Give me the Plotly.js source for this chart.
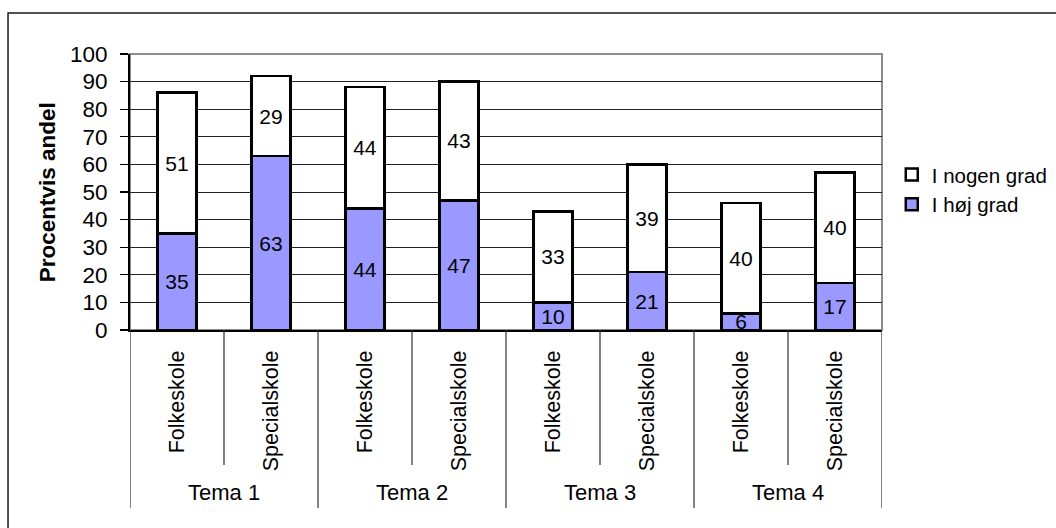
<!DOCTYPE html>
<html>
<head>
<meta charset="utf-8">
<script src="https://cdn.plot.ly/plotly-3.0.1.min.js"></script>
<style>
  html, body { margin: 0; padding: 0; background: #fff; }
  #chart { width: 1056px; height: 528px; }
</style>
</head>
<body>
<div id="chart"></div>
<script>
// Themes and school types along the category axis
const themes = ["Tema 1", "Tema 2", "Tema 3", "Tema 4"];
const schools = ["Folkeskole", "Specialskole"];

// Percentages per bar (Folkeskole, Specialskole for each theme)
const hojGrad   = [35, 63, 44, 47, 10, 21, 6, 17];
const nogenGrad = [51, 29, 44, 43, 33, 39, 40, 40];

const seriesNames = ["I høj grad", "I nogen grad"];
const yTitle = "Procentvis andel";

// One slot per theme/school pair
const slotLabels = [];
themes.forEach(() => schools.forEach(s => slotLabels.push(s)));
const slots = slotLabels.map((_, i) => i);

const FONT = "Arial, 'Liberation Sans', sans-serif";
const outline = { color: "#000000", width: 2.5 };

const traces = [
  {
    type: "bar", name: seriesNames[0], x: slots, y: hojGrad,
    text: hojGrad.map(String), textposition: "inside", insidetextanchor: "middle",
    constraintext: "none", textangle: 0,
    textfont: { family: FONT, size: 21, color: "#000" },
    marker: { color: "#9999FF", line: outline },
    hoverinfo: "skip"
  },
  {
    type: "bar", name: seriesNames[1], x: slots, y: nogenGrad,
    text: nogenGrad.map(String), textposition: "inside", insidetextanchor: "middle",
    constraintext: "none", textangle: 0,
    textfont: { family: FONT, size: 21, color: "#000" },
    marker: { color: "#FFFFFF", line: outline },
    hoverinfo: "skip"
  }
];

// Separator lines under the category axis
const shapes = [];
const perTheme = schools.length;
for (let i = 0; i <= slots.length; i++) {
  const atThemeEdge = i % perTheme === 0;
  shapes.push({
    type: "line", xref: "x", yref: "paper",
    x0: i - 0.5, x1: i - 0.5, y0: 0, y1: atThemeEdge ? -0.645 : -0.489,
    line: { color: "#303030", width: 1.2 }
  });
}
// Plot-area frame (top and right in grey)
shapes.push({
  type: "rect", xref: "paper", yref: "paper", x0: 0, x1: 1, y0: 0, y1: 1,
  line: { color: "#8c8c8c", width: 2 }, layer: "below"
});
// Chart-area border
shapes.push({
  type: "rect", xref: "paper", yref: "paper",
  x0: -0.1622, x1: 1.3, y0: -0.8, y1: 1.1486,
  line: { color: "#1a1a1a", width: 1.5 }, layer: "below"
});

// Theme names centred under each pair
const annotations = themes.map((t, k) => ({
  xref: "x", yref: "paper", x: k * perTheme + (perTheme - 1) / 2, y: -0.59,
  text: t, showarrow: false, xanchor: "center", yanchor: "middle",
  font: { family: FONT, size: 22, color: "#000" }
}));
annotations.push({
  xref: "paper", yref: "paper", x: -0.110, y: 0.5, textangle: -90,
  text: "<b>" + yTitle + "</b>", showarrow: false, xanchor: "center", yanchor: "middle",
  font: { family: FONT, size: 22.5, color: "#000" }
});

const layout = {
  width: 1056, height: 528,
  margin: { l: 130, r: 174, t: 54, b: 198, pad: 0, autoexpand: false },
  paper_bgcolor: "rgba(0,0,0,0)", plot_bgcolor: "#ffffff",
  barmode: "stack", bargap: 0.585,
  font: { family: FONT, color: "#000" },
  showlegend: true,
  legend: {
    x: 1.013, y: 0.635, xanchor: "left", yanchor: "top",
    traceorder: "reversed", bgcolor: "rgba(0,0,0,0)",
    font: { family: FONT, size: 20.5, color: "#000" }
  },
  xaxis: {
    range: [-0.5, slots.length - 0.5], tickmode: "array",
    tickvals: slots, ticktext: slotLabels, tickangle: -90,
    ticks: "", ticklabelstandoff: 10, showgrid: false, zeroline: false,
    showline: true, linecolor: "#000", linewidth: 2,
    tickfont: { family: FONT, size: 21.5, color: "#000" },
    automargin: false, fixedrange: true
  },
  yaxis: {
    range: [0, 100], dtick: 10, tick0: 0,
    ticks: "outside", ticklen: 8, tickcolor: "#000", tickwidth: 1.2,
    ticklabelstandoff: 8,
    showgrid: true, gridcolor: "#222", gridwidth: 1,
    zeroline: false, showline: true, linecolor: "#000", linewidth: 2,
    tickfont: { family: FONT, size: 22.5, color: "#000" },
    automargin: false, fixedrange: true
  },
  shapes: shapes,
  annotations: annotations
};

Plotly.newPlot("chart", traces, layout, { displayModeBar: false, staticPlot: true });
</script>
</body>
</html>
